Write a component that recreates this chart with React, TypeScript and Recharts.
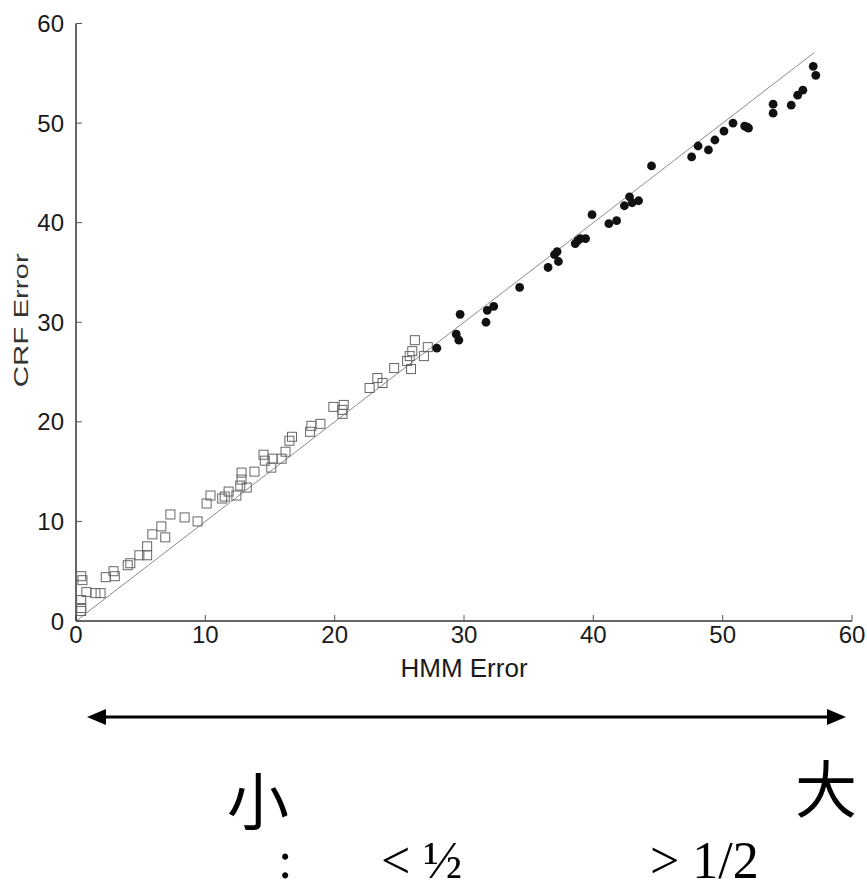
import { ScatterChart, Scatter, XAxis, YAxis, ReferenceLine } from 'recharts';

const axisTicks = [0, 10, 20, 30, 40, 50, 60];

// open squares (ratio < 1/2)
const squareX = [
  0.4, 0.5, 0.8, 0.4, 0.4, 0.4, 1.5, 1.9, 2.3, 3.0, 2.9, 4.0, 4.2, 4.9, 5.5, 5.5, 5.9, 6.6, 6.9, 7.3,
  8.4, 9.4, 10.1, 10.4, 11.3, 11.5, 11.8, 12.4, 12.7, 12.8, 12.8, 13.2, 13.8, 14.5, 14.6, 15.1, 15.2,
  15.9, 16.2, 16.5, 16.7, 18.1, 18.2, 18.9, 19.9, 20.6, 20.6, 20.7, 22.7, 23.3, 23.7, 24.6, 25.6, 25.8,
  25.9, 26.0, 26.2, 26.9, 27.2,
];
const squareY = [
  4.5, 4.1, 2.9, 2.1, 1.3, 1.0, 2.8, 2.8, 4.4, 4.5, 5.0, 5.6, 5.8, 6.6, 6.6, 7.5, 8.7, 9.5, 8.4, 10.7,
  10.4, 10.0, 11.8, 12.6, 12.3, 12.5, 13.0, 12.6, 13.6, 14.2, 14.9, 13.4, 15.0, 16.7, 16.1, 15.4, 16.3,
  16.3, 17.0, 18.1, 18.5, 19.0, 19.6, 19.8, 21.5, 20.8, 21.2, 21.7, 23.4, 24.4, 23.9, 25.4, 26.1, 26.6,
  25.3, 27.1, 28.2, 26.6, 27.5,
];

// filled dots (ratio > 1/2)
const dotX = [
  27.9, 29.4, 29.6, 29.7, 31.7, 31.8, 32.3, 34.3, 36.5, 37.0, 37.2, 37.3, 38.6, 38.8, 39.0, 39.4, 39.9,
  41.2, 41.8, 42.4, 42.8, 43.0, 43.5, 44.5, 47.6, 48.1, 48.9, 49.4, 50.1, 50.8, 51.7, 51.9, 52.0, 53.9,
  53.9, 55.3, 55.8, 56.2, 57.0, 57.2,
];
const dotY = [
  27.4, 28.8, 28.2, 30.8, 30.0, 31.2, 31.6, 33.5, 35.5, 36.8, 37.1, 36.1, 37.9, 38.2, 38.4, 38.4, 40.8,
  39.9, 40.2, 41.7, 42.6, 42.0, 42.2, 45.7, 46.6, 47.7, 47.3, 48.3, 49.2, 50.0, 49.7, 49.6, 49.5, 51.9,
  51.0, 51.8, 52.8, 53.3, 55.7, 54.8,
];

// y = x reference
const diagonalStart = { x: 0, y: 0 };
const diagonalEnd = { x: 57.1, y: 57.1 };

const squares = squareX.map((x, i) => ({ x, y: squareY[i] }));
const dots = dotX.map((x, i) => ({ x, y: dotY[i] }));

const SquareMark = (props: any) => (
  <rect x={props.cx - 4.5} y={props.cy - 4.5} width={9} height={9} fill="none" stroke="#666" strokeWidth={1} />
);

const DotMark = (props: any) => <circle cx={props.cx} cy={props.cy} r={4.4} fill="#111" />;

function YTitle(props: any) {
  const vb = props.viewBox || { x: 0, y: 23.5, width: 76, height: 597.5 };
  const cx = vb.x + 21;
  const cy = vb.y + vb.height / 2 - 2;
  return (
    <text
      x={cx}
      y={cy}
      transform={`rotate(-90 ${cx} ${cy})`}
      textAnchor="middle"
      dominantBaseline="central"
      fontSize={20}
      fill="#333"
      textLength={134}
      lengthAdjust="spacingAndGlyphs"
    >
      CRF Error
    </text>
  );
}

export default function App() {
  return (
    <div
      style={{
        position: 'absolute',
        left: 0,
        top: 0,
        width: 867,
        height: 890,
        background: '#fff',
        fontFamily: '"Liberation Sans", Arial, sans-serif',
      }}
    >
      <ScatterChart width={867} height={690} margin={{ top: 23.5, right: 15, bottom: 0, left: 0 }}>
        <XAxis
          type="number"
          dataKey="x"
          domain={[0, 60]}
          ticks={axisTicks}
          allowDataOverflow
          height={69}
          tickSize={-6}
          tickMargin={11}
          axisLine={{ stroke: '#333', strokeWidth: 1.5 }}
          tickLine={{ stroke: '#555' }}
          tick={{ fill: '#1a1a1a', fontSize: 24 }}
          label={{ value: 'HMM Error', position: 'insideBottom', offset: 13, fill: '#1a1a1a', fontSize: 26 }}
        />
        <YAxis
          type="number"
          dataKey="y"
          domain={[0, 60]}
          ticks={axisTicks}
          allowDataOverflow
          width={76}
          tickSize={-6}
          tickMargin={18}
          axisLine={{ stroke: '#333', strokeWidth: 1.5 }}
          tickLine={{ stroke: '#555' }}
          tick={{ fill: '#1a1a1a', fontSize: 24 }}
          label={YTitle}
        />
        <XAxis
          xAxisId="top"
          orientation="top"
          type="number"
          domain={[0, 60]}
          ticks={axisTicks}
          height={0}
          tickSize={-6}
          tick={false}
          axisLine={{ stroke: '#555', strokeWidth: 1.5 }}
          tickLine={{ stroke: '#555' }}
        />
        <YAxis
          yAxisId="right"
          orientation="right"
          type="number"
          domain={[0, 60]}
          ticks={axisTicks}
          width={0}
          tickSize={-6}
          tick={false}
          axisLine={{ stroke: '#555', strokeWidth: 1.5 }}
          tickLine={{ stroke: '#555' }}
        />
        <ReferenceLine segment={[diagonalStart, diagonalEnd]} stroke="#8a8a8a" strokeWidth={1} />
        <Scatter data={squares} shape={SquareMark} isAnimationActive={false} />
        <Scatter data={dots} shape={DotMark} isAnimationActive={false} />
      </ScatterChart>

      <svg
        width={867}
        height={200}
        style={{ position: 'absolute', left: 0, top: 690, overflow: 'visible' }}
      >
        <line x1={100} y1={27} x2={833} y2={27} stroke="#000" strokeWidth={3} />
        <polygon points="87,27 106,19 106,35" fill="#000" />
        <polygon points="846,27 827,19 827,35" fill="#000" />
        <text
          x={258}
          y={108}
          textAnchor="middle"
          dominantBaseline="central"
          fontSize={62}
          fontFamily='"Noto Sans CJK SC", sans-serif'
          fill="#000"
        >
          小
        </text>
        <text
          x={826}
          y={96}
          textAnchor="middle"
          dominantBaseline="central"
          fontSize={62}
          fontFamily='"Noto Sans CJK SC", sans-serif'
          fill="#000"
        >
          大
        </text>
        <g fontFamily='"Liberation Serif", "Times New Roman", serif' fontSize={52} fill="#000">
          <text x={278} y={188}>:</text>
          <text x={381} y={188}>&lt; ½</text>
          <text x={650} y={188}>&gt; 1/2</text>
        </g>
      </svg>
    </div>
  );
}
